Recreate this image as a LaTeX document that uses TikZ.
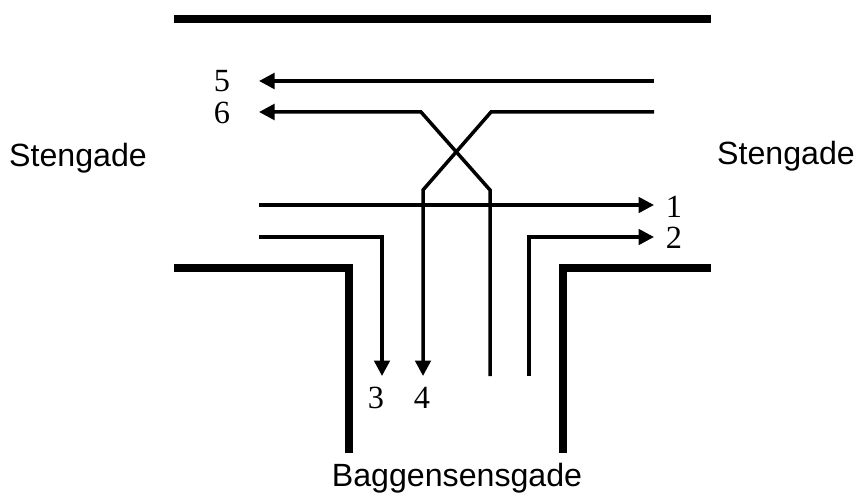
\documentclass[tikz,border=0pt]{standalone}
\usepackage{fontspec}
\setmainfont{Liberation Serif}
\newfontfamily\gadefont{Liberation Sans}
\usetikzlibrary{arrows.meta}
\tikzset{
    wall/.style={line width=0.16cm, line cap=butt, line join=miter},
    lane/.style={line width=0.07cm, line join=miter},
    arrowlane/.style={lane, -{Triangle[length=0.31cm, width=0.31cm]}},
    lanenum/.style={font=\fontsize{18.4}{20}\selectfont, inner sep=0pt},
    gade/.style={font=\gadefont\fontsize{18.3}{20}\selectfont, inner sep=0pt}
}
\begin{document}
\begin{tikzpicture}[x=0.02cm, y=-0.02cm]
    \useasboundingbox (0,0) rectangle (858,493);

    % Vejkanter
    \coordinate (topL) at (174,19);
    \coordinate (topR) at (711,19);
    \coordinate (leftA) at (174,267.5);
    \coordinate (leftB) at (349,267.5);
    \coordinate (leftC) at (349,453);
    \coordinate (rightA) at (711,267.5);
    \coordinate (rightB) at (563,267.5);
    \coordinate (rightC) at (563,453);
    \draw[wall] (topL) -- (topR);
    \draw[wall] (leftA) -- (leftB) -- (leftC);
    \draw[wall] (rightA) -- (rightB) -- (rightC);

    % Tal ved vognbaner
    \node[lanenum] (n5) at (222,81) {5};
    \node[lanenum] (n6) at (222,113) {6};
    \node[lanenum] (n1) at (674,207) {1};
    \node[lanenum] (n2) at (674,238) {2};
    \node[lanenum] (n3) at (376,398) {3};
    \node[lanenum] (n4) at (422,398) {4};

    % Baner fra hoejre
    \coordinate (r5) at (654,81);
    \coordinate (e5) at (259,81);
    \draw[arrowlane] (r5) -- (e5);
    \coordinate (r6) at (654,112);
    \coordinate (a1) at (491,112);
    \coordinate (a2) at (423,190);
    \coordinate (e4) at (423,376);
    \draw[arrowlane] (r6) -- (a1) -- (a2) -- (e4);

    % Baner fra bunden
    \coordinate (s1) at (490,376);
    \coordinate (b1) at (490,190);
    \coordinate (b2) at (421,112);
    \coordinate (e6) at (259,112);
    \draw[arrowlane] (s1) -- (b1) -- (b2) -- (e6);
    \coordinate (s2) at (529,376);
    \coordinate (c1) at (529,237);
    \coordinate (e2) at (654,237);
    \draw[arrowlane] (s2) -- (c1) -- (e2);

    % Baner fra venstre
    \coordinate (l1) at (259,205);
    \coordinate (e1) at (654,205);
    \draw[arrowlane] (l1) -- (e1);
    \coordinate (l3) at (259,237);
    \coordinate (d1) at (382,237);
    \coordinate (e3) at (382,376);
    \draw[arrowlane] (l3) -- (d1) -- (e3);

    % Gadenavne
    \node[gade] (stenL) at (78,158) {Stengade};
    \node[gade] (stenR) at (786,156) {Stengade};
    \node[gade] (bagg) at (457,478) {Baggensensgade};
\end{tikzpicture}
\end{document}
